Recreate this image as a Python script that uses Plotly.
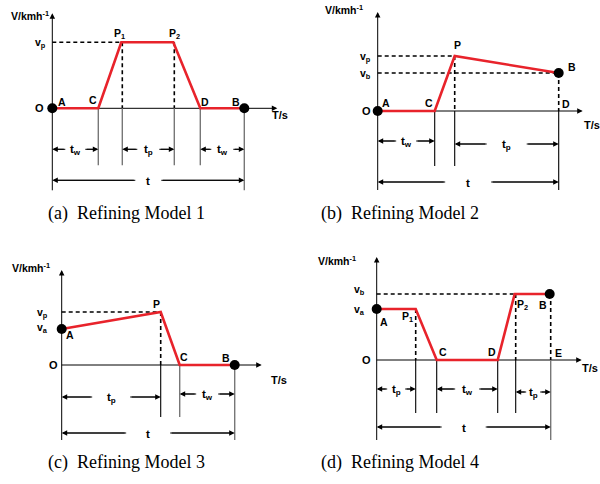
import plotly.graph_objects as go

# ---------------- data (schematic units) ----------------
m1_t = [0, 46, 69, 121, 148, 192]
m1_v = [0, 0, 66, 66, 0, 0]
m1_pts = ["A", "C", "P<sub>1</sub>", "P<sub>2</sub>", "D", "B"]

m2_t = [0, 57, 77, 181]
m2_v = [0, 0, 55, 38]
m2_pts = ["A", "C", "P", "B"]

m3_t = [0, 99, 118, 173]
m3_v = [36, 53, 0, 0]
m3_pts = ["A", "P", "C", "B"]

m4_t = [0, 39, 60, 121, 138, 173]
m4_v = [51, 51, 0, 0, 66, 66]
m4_pts = ["A", "P<sub>1</sub>", "C", "D", "P<sub>2</sub>", "B"]

captions = ["(a)  Refining Model 1", "(b)  Refining Model 2",
            "(c)  Refining Model 3", "(d)  Refining Model 4"]
y_title = "V/kmh<sup>-1</sup>"
x_title = "T/s"

# ---------------- layout helpers ----------------
W, H = 600, 484
origins = [(52.3, 108.3), (377.7, 111.0), (61.7, 365.0), (376.7, 360.0)]

RED = "#e8232b"
GRAY = "#777777"
DASH = "4px,3px"
LBL = dict(family="Liberation Sans, Arial, sans-serif", size=10.5, color="black")

fig = go.Figure()
shapes = []
annos = []


def ax(i):
    return ("x" if i == 0 else f"x{i+1}"), ("y" if i == 0 else f"y{i+1}")


def line(i, x0, y0, x1, y1, color="black", width=1, dash="solid"):
    xr, yr = ax(i)
    shapes.append(dict(type="line", xref=xr, yref=yr, x0=x0, y0=y0, x1=x1, y1=y1,
                       line=dict(color=color, width=width, dash=dash), layer="below"))


def arrow(i, xt, yt, xh, yh, size=1.0):
    xr, yr = ax(i)
    annos.append(dict(xref=xr, yref=yr, axref=xr, ayref=yr, x=xh, y=yh, ax=xt, ay=yt,
                      text="", showarrow=True, arrowhead=2, arrowsize=size,
                      arrowwidth=1.1, arrowcolor="black"))


def label(i, x, y, text, size=None, xanchor="center"):
    xr, yr = ax(i)
    f = dict(LBL)
    if size:
        f["size"] = size
    annos.append(dict(xref=xr, yref=yr, x=x, y=y, text="<b>" + text + "</b>",
                      showarrow=False, font=f, xanchor=xanchor, yanchor="middle"))


def dim(i, x0, x1, y, text, gap):
    c = (x0 + x1) / 2
    arrow(i, c - gap / 2, y, x0, y)
    arrow(i, c + gap / 2, y, x1, y)
    line(i, c - gap / 2, y, x0 + 2, y)
    line(i, c + gap / 2, y, x1 - 2, y)
    label(i, c, y - 1, text, size=11.5)


def axes_frame(i, ytop, ybot, xend):
    line(i, 0, ybot, 0, ytop - 3, width=1)
    arrow(i, 0, ytop - 6, 0, ytop, size=1.0)
    line(i, 0, 0, xend - 3, 0, width=1)
    arrow(i, xend - 6, 0, xend, 0, size=1.0)


def profile(i, t, v, dots):
    xr, yr = ax(i)
    fig.add_trace(go.Scatter(x=t, y=v, mode="lines", xaxis=xr, yaxis=yr,
                             line=dict(color=RED, width=2.6), hoverinfo="skip",
                             showlegend=False))
    fig.add_trace(go.Scatter(x=[t[k] for k in dots], y=[v[k] for k in dots],
                             mode="markers", xaxis=xr, yaxis=yr,
                             marker=dict(color="black", size=10), hoverinfo="skip",
                             showlegend=False))


# ---------------- (a) Model 1 ----------------
i = 0
t, v = m1_t, m1_v
axes_frame(i, 95, -82, 225)
line(i, 0, v[2], t[2], v[2], dash=DASH, width=1.5)
for k in (2, 3):
    line(i, t[k] + 1, v[k], t[k] + 1, 0, dash=DASH, width=1.6)
    line(i, t[k] + 1, 0, t[k] + 1, -57, color=GRAY, width=1.4)
for k in (1, 4):
    line(i, t[k], 0, t[k], -57, color=GRAY, width=1.4)
line(i, t[5], 0, t[5], -82, color=GRAY, width=1.4)
profile(i, t, v, [0, 5])
dim(i, t[0], t[1], -41, "t<sub>w</sub>", 20)
dim(i, t[2] + 1, t[3] + 1, -41, "t<sub>p</sub>", 22)
dim(i, t[4], t[5], -41, "t<sub>w</sub>", 22)
dim(i, t[0], t[5], -72, "t", 26)
label(i, -43, 93, y_title, xanchor="left")
label(i, -12, v[2] - 1, "v<sub>p</sub>")
label(i, -13, 0, "O", size=11)
label(i, 10, 6, m1_pts[0])
label(i, t[1] - 5, 8, m1_pts[1])
label(i, t[2] - 2, 74, m1_pts[2])
label(i, t[3] + 1, 74, m1_pts[3])
label(i, t[4] + 5, 6, m1_pts[4])
label(i, t[5] - 8, 6, m1_pts[5])
label(i, 228, -7, x_title, size=11)

# ---------------- (b) Model 2 ----------------
i = 1
t, v = m2_t, m2_v
axes_frame(i, 99, -79, 205)
line(i, 0, v[2], t[2], v[2], dash=DASH, width=1.5)
line(i, 0, v[3], t[3], v[3], dash=DASH, width=1.5)
line(i, t[2], v[2], t[2], 0, dash=DASH, width=1.6)
line(i, t[2], 0, t[2], -55, color="black", width=1.1)
line(i, t[1], 0, t[1], -55, color="black", width=1.1)
line(i, t[3], v[3], t[3], 0, dash=DASH, width=1.6)
line(i, t[3], 0, t[3], -79, color="black", width=1.1)
profile(i, t, v, [0, 3])
dim(i, t[0], t[1], -30, "t<sub>w</sub>", 20)
dim(i, t[2], t[3], -33, "t<sub>p</sub>", 40)
dim(i, t[0], t[3], -71, "t", 46)
label(i, -55, 102, y_title, xanchor="left")
label(i, -12, v[2] - 1, "v<sub>p</sub>")
label(i, -12, v[3] - 1, "v<sub>b</sub>")
label(i, -11, 0, "O", size=11)
label(i, 8, 8, m2_pts[0])
label(i, t[1] - 6, 8, m2_pts[1])
label(i, t[2] + 3, 66, m2_pts[2])
label(i, t[3] + 13, 44, m2_pts[3])
label(i, t[3] + 7, 7, "D")
label(i, 214, -14, x_title, size=11)

# ---------------- (c) Model 3 ----------------
i = 2
t, v = m3_t, m3_v
axes_frame(i, 95, -75, 200)
line(i, 0, v[1], t[1], v[1], dash=DASH, width=1.5)
line(i, t[1], v[1], t[1], 0, dash=DASH, width=1.6)
line(i, t[1], 0, t[1], -52, color="black", width=1.1)
line(i, t[2], 0, t[2], -52, color=GRAY, width=1.4)
line(i, t[3], 0, t[3], -75, color=GRAY, width=1.4)
profile(i, t, v, [0, 3])
dim(i, t[0], t[1], -32, "t<sub>p</sub>", 38)
dim(i, t[2], t[3], -29, "t<sub>w</sub>", 22)
dim(i, t[0], t[3], -68, "t", 44)
label(i, -52, 98, y_title, xanchor="left")
label(i, -19, v[1] - 1, "v<sub>p</sub>")
label(i, -19, v[0] + 1, "v<sub>a</sub>")
label(i, -8, 0, "O", size=11)
label(i, 8, v[0] - 6, m3_pts[0])
label(i, t[1] - 4, v[1] + 8, m3_pts[1])
label(i, t[2] + 4, 8, m3_pts[2])
label(i, t[3] - 9, 7, m3_pts[3])
label(i, 217, -15, x_title, size=11)

# ---------------- (d) Model 4 ----------------
i = 3
t, v = m4_t, m4_v
axes_frame(i, 103, -80, 205)
line(i, 0, v[4], t[4], v[4], dash=DASH, width=1.5)
line(i, t[1], v[1], t[1], 0, dash=DASH, width=1.6)
line(i, t[1], 0, t[1], -53, color="black", width=1.1)
line(i, t[2], 0, t[2], -53, color="black", width=1.1)
line(i, t[3], 0, t[3], -53, color="black", width=1.1)
line(i, t[4] + 1, v[4], t[4] + 1, 0, dash=DASH, width=1.6)
line(i, t[4] + 1, 0, t[4] + 1, -53, color="black", width=1.1)
line(i, t[5] + 1, v[5], t[5] + 1, 0, dash=DASH, width=1.6)
line(i, t[5] + 1, 0, t[5] + 1, -80, color=GRAY, width=1.4)
profile(i, t, v, [0, 5])
dim(i, t[0], t[1], -29, "t<sub>p</sub>", 18)
dim(i, t[2], t[3], -29, "t<sub>w</sub>", 24)
dim(i, t[4] + 1, t[5] + 1, -32, "t<sub>p</sub>", 14)
dim(i, t[0], t[5] + 1, -67, "t", 44)
label(i, -61, 100, y_title, xanchor="left")
label(i, -17, v[4] + 4, "v<sub>b</sub>")
label(i, -17, v[0] - 1, "v<sub>a</sub>")
label(i, -10, 0, "O", size=11)
label(i, 7, v[0] - 13, m4_pts[0])
label(i, t[1] - 8, v[1] - 8, m4_pts[1])
label(i, t[2] + 6, 8, m4_pts[2])
label(i, t[3] - 6, 8, m4_pts[3])
label(i, t[4] + 8, v[4] - 11, m4_pts[4])
label(i, t[5] - 7, v[5] - 11, m4_pts[5])
label(i, t[5] + 9, 7, "E")
label(i, 213, -8, x_title, size=11)

# ---------------- captions ----------------
cap_pos = [(126, 213), (400, 213), (126, 462), (400, 462)]
for (cx, cy), txt in zip(cap_pos, captions):
    annos.append(dict(xref="paper", yref="paper", x=cx / W, y=1 - cy / H,
                      text=txt, showarrow=False, xanchor="center", yanchor="middle",
                      font=dict(family="Liberation Serif, Times New Roman, serif",
                                size=18, color="black")))

# ---------------- axes: 1 unit = 1 px, origin at each panel's O ----------------
layout_axes = {}
for k, (ox, oy) in enumerate(origins):
    xn = "xaxis" if k == 0 else f"xaxis{k+1}"
    yn = "yaxis" if k == 0 else f"yaxis{k+1}"
    common = dict(visible=False, showgrid=False, zeroline=False, fixedrange=True,
                  domain=[0, 1])
    layout_axes[xn] = dict(range=[-ox, W - ox], **common)
    layout_axes[yn] = dict(range=[oy - H, oy], **common)
    if k > 0:
        layout_axes[xn]["anchor"] = f"y{k+1}"
        layout_axes[yn]["anchor"] = f"x{k+1}"

fig.update_layout(width=W, height=H, margin=dict(l=0, r=0, t=0, b=0),
                  paper_bgcolor="white", plot_bgcolor="rgba(0,0,0,0)",
                  shapes=shapes, annotations=annos, showlegend=False,
                  hovermode=False, **layout_axes)

fig.write_html("out.html", config={"displayModeBar": False, "staticPlot": True},
               post_script="document.body.style.margin='0';document.body.style.overflow='hidden';")
